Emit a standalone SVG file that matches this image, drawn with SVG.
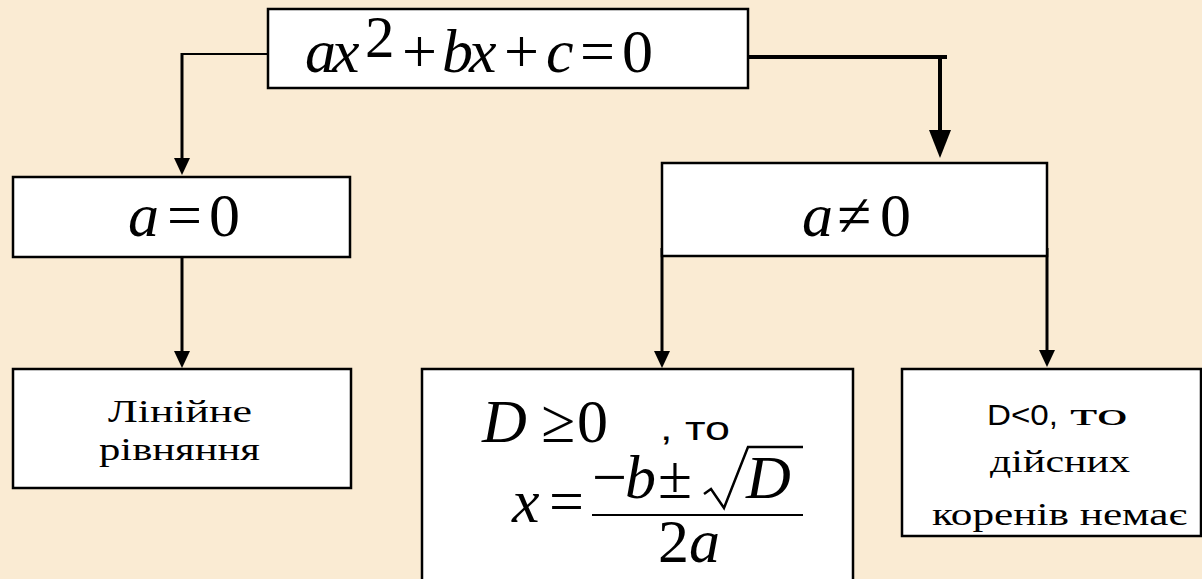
<svg xmlns="http://www.w3.org/2000/svg" width="1202" height="579" viewBox="0 0 1202 579">
<style>
.box{fill:#ffffff;stroke:#000000;stroke-width:2.5}
.ah{fill:#000000;stroke:none}
</style>
<rect x="0" y="0" width="1202" height="579" fill="#FAEBD3"/>

<g id="connectors" stroke="#000" fill="none">
<path d="M268,54 H181" stroke-width="2"/>
<path d="M182,53 V162" stroke-width="3"/>
<polygon class="ah" points="174,158 190,158 182,175"/>
<path d="M748,57 H947" stroke-width="4"/>
<path d="M940,55 V134" stroke-width="4"/>
<polygon class="ah" points="929,130 951,130 940,158"/>
<path d="M182,257 V355" stroke-width="3"/>
<polygon class="ah" points="174,351 190,351 182,368"/>
<path d="M662,248 V355" stroke-width="3"/>
<polygon class="ah" points="654,351 670,351 662,368"/>
<path d="M1047,248 V354" stroke-width="3"/>
<polygon class="ah" points="1039,350 1055,350 1047,367"/>
</g>

<g id="node-equation">
<rect class="box" x="268" y="9" width="480" height="79"/>
<text font-family="Liberation Serif" font-size="62" y="72"><tspan font-style="italic" x="305">a</tspan><tspan font-style="italic" x="332">x</tspan><tspan x="365" y="57" font-size="59">2</tspan><tspan x="402" y="72">+</tspan><tspan font-style="italic" x="442">b</tspan><tspan font-style="italic" x="469">x</tspan><tspan x="504">+</tspan><tspan font-style="italic" x="546">c</tspan><tspan x="580">=</tspan><tspan x="622">0</tspan></text>
</g>

<g id="node-a-zero">
<rect class="box" x="13" y="177" width="337" height="80"/>
<text font-family="Liberation Serif" font-size="62" y="236"><tspan font-style="italic" x="128">a</tspan><tspan x="167">=</tspan><tspan x="209">0</tspan></text>
</g>

<g id="node-a-nonzero">
<rect class="box" x="662" y="163" width="385" height="93"/>
<text font-family="Liberation Serif" font-size="62" y="236"><tspan font-style="italic" x="802">a</tspan><tspan x="837">≠</tspan><tspan x="880">0</tspan></text>
</g>

<g id="node-linear">
<rect class="box" x="13" y="369" width="338" height="119"/>
<text font-family="Liberation Serif" font-size="31" x="108" y="422" textLength="144" lengthAdjust="spacingAndGlyphs">Лінійне</text>
<text font-family="Liberation Serif" font-size="31" x="99" y="460" textLength="161" lengthAdjust="spacingAndGlyphs">рівняння</text>
</g>

<g id="node-d-nonneg">
<rect class="box" x="422" y="369" width="431" height="222"/>
<text font-family="Liberation Serif" font-size="62" y="442"><tspan font-style="italic" x="482">D</tspan><tspan x="541">≥</tspan><tspan x="577">0</tspan></text>
<text font-family="Liberation Sans" x="660" y="440" font-size="34" textLength="70" lengthAdjust="spacingAndGlyphs">, то</text>
<text font-family="Liberation Serif" font-size="62" y="522"><tspan font-style="italic" x="512">x</tspan><tspan x="549">=</tspan></text>
<text font-family="Liberation Serif" font-size="62" y="498"><tspan x="592">−</tspan><tspan font-style="italic" x="625">b</tspan><tspan x="658">±</tspan><tspan font-style="italic" x="746">D</tspan></text>
<path d="M704,494 L711,489 L724,508 L748,447 H803" fill="none" stroke="#000" stroke-width="2.5"/>
<path d="M592,515 H803" fill="none" stroke="#000" stroke-width="2"/>
<text font-family="Liberation Serif" font-size="62" y="562"><tspan x="658">2</tspan><tspan font-style="italic" x="689">a</tspan></text>
</g>

<g id="node-d-neg">
<rect class="box" x="902" y="369" width="299" height="167"/>
<text font-family="Liberation Sans" x="987" y="425" font-size="30" textLength="71" lengthAdjust="spacingAndGlyphs">D&lt;0,</text>
<text font-family="Liberation Serif" x="1070" y="425" font-size="31" textLength="58" lengthAdjust="spacingAndGlyphs">то</text>
<text font-family="Liberation Serif" font-size="31" x="990" y="472" textLength="140" lengthAdjust="spacingAndGlyphs">дійсних</text>
<text font-family="Liberation Serif" font-size="31" x="932" y="525" textLength="255" lengthAdjust="spacingAndGlyphs">коренів немає</text>
</g>
</svg>
